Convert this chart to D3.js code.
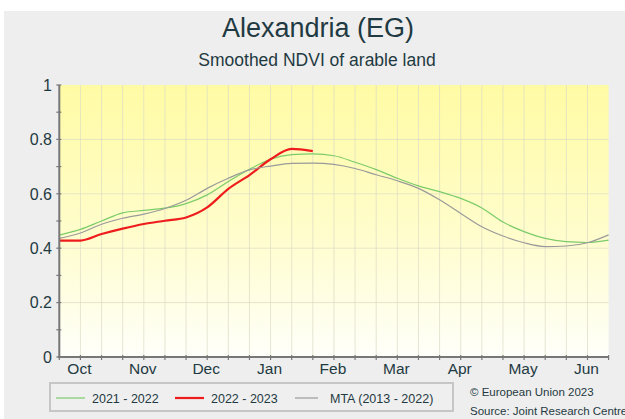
<!DOCTYPE html>
<html>
<head>
<meta charset="utf-8">
<script src="https://cdn.jsdelivr.net/npm/d3@7"></script>
<style>
  body { margin: 0; background: #fff; }
  svg { display: block; font-family: "Liberation Sans", Arial, sans-serif; }
</style>
</head>
<body>
<svg id="chart" width="625" height="419"></svg>
<script>
// dekads from Sep 21 (index 0) to Jun 11 (index 26)
var monthLabels = ["Oct", "Nov", "Dec", "Jan", "Feb", "Mar", "Apr", "May", "Jun"];
var monthIdx = [1, 4, 7, 10, 13, 16, 19, 22, 25];
var yTicks = [0, 0.2, 0.4, 0.6, 0.8, 1];

var s2122 = [0.448, 0.469, 0.500, 0.530, 0.539, 0.547, 0.564, 0.596, 0.645, 0.690,
  0.727, 0.744, 0.747, 0.740, 0.716, 0.689, 0.657, 0.629, 0.608, 0.583,
  0.548, 0.496, 0.461, 0.436, 0.424, 0.421, 0.430];
var s2223 = [0.428, 0.428, 0.452, 0.472, 0.489, 0.501, 0.513, 0.550, 0.618, 0.669,
  0.727, 0.765, 0.757];
var mta = [0.436, 0.456, 0.488, 0.510, 0.525, 0.546, 0.576, 0.620, 0.657, 0.688,
  0.702, 0.712, 0.713, 0.708, 0.693, 0.670, 0.648, 0.620, 0.578, 0.528,
  0.479, 0.445, 0.420, 0.406, 0.408, 0.420, 0.449];

var series = [
  {name: "2021 - 2022", values: s2122, color: "#7ccb6a", width: 1.2},
  {name: "2022 - 2023", values: s2223, color: "#ee1c1c", width: 2.2},
  {name: "MTA (2013 - 2022)", values: mta, color: "#9a9a9a", width: 1.2}
];

var svg = d3.select("#chart");
var txt = "#1f3a42";

var x = d3.scaleLinear().domain([0, 26]).range([59.3, 608.6]);
var y = d3.scaleLinear().domain([0, 1]).range([357, 85]);

// page background
svg.append("rect").attr("x", 4).attr("y", 11).attr("width", 621).attr("height", 408)
  .attr("fill", "#eeeeee");

// titles
svg.append("text").attr("x", 318).attr("y", 37).attr("text-anchor", "middle")
  .attr("font-size", 27).attr("fill", txt).text("Alexandria (EG)");
svg.append("text").attr("x", 317).attr("y", 66).attr("text-anchor", "middle")
  .attr("font-size", 17.5).attr("fill", txt).text("Smoothed NDVI of arable land");

// plot background gradient
var grad = svg.append("defs").append("linearGradient").attr("id", "bg")
  .attr("x1", 0).attr("y1", 0).attr("x2", 0).attr("y2", 1);
grad.append("stop").attr("offset", "0%").attr("stop-color", "#fffba4");
grad.append("stop").attr("offset", "55%").attr("stop-color", "#fffdcc");
grad.append("stop").attr("offset", "100%").attr("stop-color", "#fffffa");

svg.append("rect").attr("x", x(0)).attr("y", y(1))
  .attr("width", x(26) - x(0)).attr("height", y(0) - y(1))
  .attr("fill", "url(#bg)");

// grid
var grid = svg.append("g").attr("stroke", "#dcdcc4").attr("stroke-opacity", 0.7).attr("stroke-width", 1);
grid.selectAll("line.v").data(d3.range(1, 26)).enter().append("line")
  .attr("x1", d => x(d)).attr("x2", d => x(d)).attr("y1", y(1)).attr("y2", y(0));
grid.selectAll("line.h").data([0.2, 0.4, 0.6, 0.8]).enter().append("line")
  .attr("x1", x(0)).attr("x2", x(26)).attr("y1", d => y(d)).attr("y2", d => y(d));

// lines
var line = d3.line().x((d, i) => x(i)).y(d => y(d)).curve(d3.curveMonotoneX);
svg.append("g").selectAll("path").data(series).enter().append("path")
  .attr("d", d => line(d.values))
  .attr("fill", "none")
  .attr("stroke", d => d.color)
  .attr("stroke-width", d => d.width);

// axes
var axisCol = "#777";
svg.append("line").attr("x1", x(0)).attr("x2", x(0)).attr("y1", y(1)).attr("y2", y(0) + 1)
  .attr("stroke", axisCol).attr("stroke-width", 2);
svg.append("line").attr("x1", x(0) - 1).attr("x2", x(26)).attr("y1", y(0)).attr("y2", y(0))
  .attr("stroke", axisCol).attr("stroke-width", 2);

svg.append("g").selectAll("line").data(d3.range(0, 1.01, 0.1)).enter().append("line")
  .attr("x1", x(0) - 3).attr("x2", x(0) + 2).attr("y1", d => y(d)).attr("y2", d => y(d))
  .attr("stroke", axisCol).attr("stroke-width", 1.2);
svg.append("g").selectAll("text").data(yTicks).enter().append("text")
  .attr("x", 52).attr("y", d => y(d)).attr("dy", "0.36em").attr("text-anchor", "end")
  .attr("font-size", 16).attr("fill", txt).text(d => d3.format("~g")(d));

svg.append("g").selectAll("line").data(d3.range(0, 27)).enter().append("line")
  .attr("x1", d => x(d)).attr("x2", d => x(d)).attr("y1", y(0) - 2).attr("y2", y(0) + 3)
  .attr("stroke", axisCol).attr("stroke-width", 1.2);
svg.append("g").selectAll("text").data(monthLabels).enter().append("text")
  .attr("x", (d, i) => x(monthIdx[i]) - 1).attr("y", 374).attr("text-anchor", "middle")
  .attr("font-size", 15.5).attr("fill", txt).text(d => d);

// legend
svg.append("rect").attr("x", 50).attr("y", 383).attr("width", 403).attr("height", 28)
  .attr("fill", "#efefef").attr("stroke", "#c6c6c6").attr("stroke-width", 2);
var legX = [56, 175, 295];
var leg = svg.append("g").selectAll("g").data(series).enter().append("g")
  .attr("transform", (d, i) => "translate(" + legX[i] + ",398)");
leg.append("line").attr("x1", 0).attr("x2", d => d.name.length > 12 ? 23 : 29)
  .attr("stroke", d => d.color).attr("stroke-width", d => d.width);
leg.append("text").attr("x", d => d.name.length > 12 ? 35 : 36).attr("dy", "0.36em")
  .attr("font-size", 12.5).attr("fill", txt).text(d => d.name);

// credits
svg.append("text").attr("x", 470).attr("y", 396).attr("font-size", 11.5).attr("fill", txt)
  .text("\u00a9 European Union 2023");
svg.append("text").attr("x", 470).attr("y", 415).attr("font-size", 11.5).attr("fill", txt)
  .text("Source: Joint Research Centre");
</script>
</body>
</html>
